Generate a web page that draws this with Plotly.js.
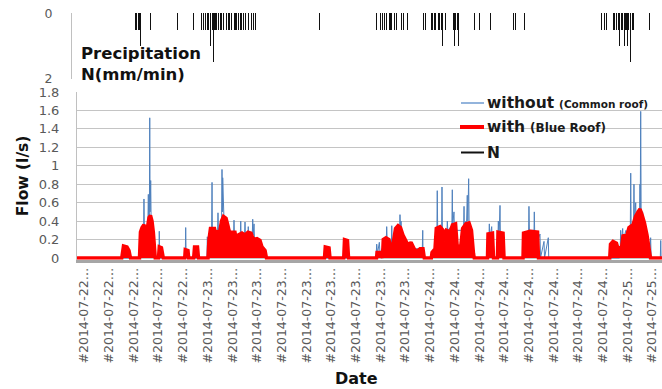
<!DOCTYPE html>
<html>
<head>
<meta charset="utf-8">
<script src="https://cdn.plot.ly/plotly-3.0.1.min.js"></script>
<style>html,body{margin:0;padding:0;overflow:hidden;background:#fff}#chart{width:662px;height:389px}</style>
</head>
<body>
<div id="chart"></div>
<script>
// Time unit: hours since 2014-07-22 00:00
// Precipitation N (mm/min), tipping-bucket steps
const rainHours = [16.41,16.61,16.75,16.90,17.06,17.18,18.35,21.41,23.19,
  24.15,24.38,24.61,24.84,24.98,25.10,25.21,25.33,25.48,25.61,25.75,25.87,26.05,26.25,26.43,26.62,26.81,27.01,27.19,27.38,27.58,27.87,28.01,28.15,28.30,28.41,28.53,28.72,28.90,29.18,29.47,29.79,30.05,30.33,
  37.59,
  44.15,44.53,44.79,45.02,45.29,45.44,45.59,45.73,45.87,46.01,46.13,46.24,46.43,46.93,47.19,47.69,
  49.47,49.78,50.43,50.58,50.73,50.89,51.04,51.19,51.35,51.50,51.69,51.84,51.96,52.41,52.64,52.90,53.02,53.18,53.33,53.48,53.67,
  55.30,55.95,57.17,
  59.76,60.03,60.41,61.02,
  69.86,70.13,70.43,71.04,71.21,71.38,71.58,71.73,71.84,71.95,72.07,72.18,72.29,72.44,72.58,72.70,72.83,72.95,73.10,73.21,73.36,73.50,73.67,
  75.38];
const rainValues = [0.5,0.5,0.5,0.5,0.5,1.0,0.5,0.5,0.5,
  0.5,0.5,0.5,0.5,0.5,1.0,0.5,0.5,1.5,0.5,0.5,0.5,0.5,0.5,0.5,0.5,0.5,0.5,0.5,0.5,0.5,0.5,0.5,0.5,0.5,0.5,0.5,0.5,0.5,0.5,0.5,0.5,0.5,0.5,
  0.5,
  0.5,0.5,0.5,0.5,0.5,0.5,0.5,0.5,0.5,0.5,0.5,0.5,0.5,0.5,0.5,0.5,
  0.5,0.5,0.5,0.5,0.5,0.5,0.5,0.5,0.5,0.5,1.0,0.5,0.5,0.5,0.5,0.5,1.0,0.5,0.5,1.0,0.5,
  0.5,0.5,0.5,
  0.5,0.5,0.5,0.5,
  0.5,0.5,0.5,0.5,0.5,0.5,0.5,0.5,0.5,1.0,0.5,0.5,0.5,1.0,0.5,0.5,1.0,0.5,1.5,0.5,0.5,0.5,0.5,
  0.5];

// Flow without (Common roof), l/s
const withoutHours = [9.90,17.10,17.21,17.50,17.55,17.61,17.99,18.05,18.10,18.17,18.21,18.25,18.32,18.38,18.70,18.81,19.27,19.30,19.35,
  22.27,22.32,22.37,
  24.75,24.79,24.87,25.28,25.33,25.37,25.97,26.01,26.06,26.42,26.47,26.51,26.55,26.62,26.70,26.81,27.04,27.79,27.84,27.89,28.56,28.61,28.65,29.05,29.10,29.14,29.44,29.47,29.52,29.93,29.98,30.03,30.13,30.18,31.38,31.61,
  44.07,44.15,44.24,44.45,44.53,45.25,45.29,45.34,45.83,45.87,45.91,46.77,46.81,46.87,46.93,46.98,47.15,47.50,49.36,49.41,49.45,
  50.41,50.98,51.03,51.07,51.12,51.57,51.61,51.66,52.18,52.22,52.27,52.74,52.79,52.83,52.98,53.03,54.08,54.13,54.17,54.35,54.41,54.50,54.56,54.66,54.71,55.15,55.27,
  56.93,56.97,57.02,57.06,57.29,57.34,57.44,
  57.95,58.05,58.13,58.24,58.29,58.65,
  60.87,60.93,61.51,61.55,61.60,62.13,62.16,62.21,62.59,62.81,62.87,63.27,63.33,63.76,63.81,
  71.90,71.99,72.03,72.08,72.26,72.31,72.64,72.69,73.13,73.18,73.23,73.51,73.55,73.60,73.75,73.80,74.19,74.24,74.27,74.32,74.37,74.55,74.59,75.38,75.46,75.51,
  76.56,76.61,76.65,76.75];
const withoutValues = [0,0,0.25,0.2,0.64,0.2,0.3,0.69,0.3,0.4,1.52,0.5,0.84,0.3,0.2,0,0,0.29,0,
  0,0.33,0,
  0,0.23,0.1,0.3,0.82,0.3,0.3,0.49,0.3,0.4,0.96,0.5,0.87,0.6,0.4,0.3,0.35,0.25,0.41,0.25,0.25,0.4,0.25,0.25,0.39,0.25,0.25,0.34,0.25,0.25,0.42,0.25,0.37,0.2,0.05,0,
  0,0.15,0.05,0.17,0.05,0.2,0.34,0.2,0.15,0.35,0.15,0.3,0.47,0.3,0.4,0.3,0.2,0.1,0.1,0.3,0,
  0,0.1,0.3,0.73,0.3,0.3,0.77,0.3,0.3,0.4,0.3,0.35,0.74,0.35,0.5,0.3,0.3,0.56,0.3,0.4,0.35,0.68,0.4,0.86,0.35,0.1,0,
  0,0.2,0.37,0.2,0.34,0.2,0,
  0,0.4,0.2,0.57,0.2,0,
  0,0.25,0.3,0.56,0.3,0.3,0.5,0.25,0.2,0.26,0,0.18,0,0.22,0,
  0,0.15,0.3,0.15,0.32,0.2,0.3,0.25,0.3,0.92,0.3,0.4,0.8,0.4,0.6,0.4,0.4,0.8,0.5,1.59,0.5,0.5,0.3,0.1,0.22,0,
  0,0.19,0,0];

// Flow with (Blue Roof), l/s
const withHours = [9.90,15.01,15.21,15.61,15.84,16.01,17.04,17.15,17.33,17.55,17.73,17.86,17.98,18.13,18.30,18.47,18.62,18.76,18.84,
  19.21,19.30,19.55,19.67,19.76,22.21,22.27,22.58,22.66,23.23,23.33,23.67,23.78,
  24.87,24.98,25.15,25.61,25.78,25.95,26.24,26.41,26.64,26.93,27.15,27.38,27.61,27.95,28.18,28.35,28.75,29.10,29.44,29.79,30.07,30.47,30.81,31.04,31.39,31.55,
  38.18,38.27,38.70,38.81,40.38,40.47,40.81,40.93,
  44.13,44.19,44.64,44.81,44.90,45.21,45.55,45.78,46.01,46.30,46.59,46.87,47.15,47.50,47.79,48.07,48.30,48.53,48.87,49.10,49.44,49.59,
  50.39,50.47,50.81,50.96,51.39,51.73,51.90,52.13,52.53,52.81,53.16,53.33,53.55,53.78,53.97,54.35,54.70,54.98,55.21,55.30,
  56.81,56.87,57.38,57.50,57.95,58.01,58.59,58.70,60.87,60.93,61.67,62.53,62.64,
  70.78,70.87,71.15,71.55,71.73,72.13,72.30,72.75,72.98,73.44,73.73,74.01,74.24,74.47,74.75,75.04,75.27,75.44,76.75];
const withValues = [0,0,0.13,0.12,0.08,0,0,0.28,0.33,0.36,0.3,0.15,0.35,0.44,0.46,0.4,0.28,0.1,0,
  0,0.12,0.11,0.05,0,0,0.09,0.08,0,0,0.12,0.12,0,
  0,0.2,0.32,0.32,0.24,0.29,0.3,0.4,0.45,0.43,0.35,0.25,0.28,0.28,0.15,0.25,0.27,0.25,0.28,0.27,0.2,0.21,0.19,0.12,0.08,0,
  0,0.12,0.11,0,0,0.2,0.19,0,
  0,0.06,0.06,0,0.2,0.22,0.2,0.1,0.15,0.32,0.35,0.33,0.25,0.18,0.13,0.17,0.12,0.08,0.08,0.1,0.1,0,
  0,0.06,0.1,0.32,0.34,0.3,0.18,0.3,0.28,0.36,0.37,0.15,0.05,0.15,0.32,0.37,0.38,0.3,0.05,0,
  0,0.26,0.27,0,0,0.28,0.27,0,0,0.27,0.29,0.28,0,
  0,0.15,0.18,0.16,0.1,0.12,0.24,0.25,0.33,0.36,0.45,0.5,0.53,0.47,0.38,0.25,0.12,0,0];

const tickLabels = ["#2014-07-22…","#2014-07-22…","#2014-07-22…","#2014-07-22…","#2014-07-22…",
  "#2014-07-23…","#2014-07-23…","#2014-07-23…","#2014-07-23…","#2014-07-23…","#2014-07-23…","#2014-07-23…","#2014-07-23…","#2014-07-23…",
  "#2014-07-24…","#2014-07-24…","#2014-07-24…","#2014-07-24…","#2014-07-24…","#2014-07-24…","#2014-07-24…","#2014-07-24…",
  "#2014-07-25…","#2014-07-25…"];
const tickStart = 10.73, tickStep = 2.823;
const tickHours = tickLabels.map((_, i) => tickStart + i * tickStep);

const W = 662, H = 389;
const px = x => x / W, py = y => 1 - y / H;
const FONT = '"DejaVu Sans", "Noto Sans", sans-serif';
const BFONT = '"DejaVu Sans", "Noto Sans", sans-serif';
const GRID = '#c4c4c4';

const traces = [
  {x: rainHours, y: rainValues, type: 'bar', xaxis: 'x2', yaxis: 'y2', width: 0.11,
   marker: {color: '#111', line: {width: 0}}, name: 'N', showlegend: false},
  {x: withoutHours, y: withoutValues, type: 'scatter', mode: 'lines', name: 'without (Common roof)',
   line: {color: '#4f81bd', width: 1}, showlegend: false},
  {x: withHours, y: withValues, type: 'scatter', mode: 'lines', name: 'with (Blue Roof)',
   line: {color: '#ff0000', width: 3.5}, fill: 'tozeroy', fillcolor: '#ff0000', showlegend: false}
];

const layout = {
  width: W, height: H,
  margin: {l: 0, r: 0, t: 0, b: 0},
  paper_bgcolor: '#fff', plot_bgcolor: 'rgba(0,0,0,0)',
  font: {family: FONT, color: '#595959', size: 13},
  bargap: 0,
  xaxis: {domain: [px(77), 1], range: [(77 + 9.6) / 8.75, (W + 9.6) / 8.75], anchor: 'y',
    tickmode: 'array', tickvals: tickHours, ticktext: tickLabels, tickangle: -90,
    ticks: '', tickfont: {size: 12.5, color: '#595959', family: FONT},
    showgrid: false, zeroline: false, showline: true, linecolor: '#a6a6a6', linewidth: 3},
  yaxis: {domain: [(H - 259.84) / H, (H - 92) / H], range: [-0.02, 1.8], anchor: 'x',
    tickmode: 'array', tickvals: [0,0.2,0.4,0.6,0.8,1,1.2,1.4,1.6,1.8], ticktext: ['0','0.2','0.4','0.6','0.8','1','1.2','1.4','1.6','1.8'],
    ticks: 'outside', ticklen: 14, tickcolor: 'rgba(0,0,0,0)',
    tickfont: {size: 13, color: '#595959', family: FONT},
    showgrid: true, gridcolor: GRID, gridwidth: 1, zeroline: false,
    showline: true, linecolor: '#c0c0c0', linewidth: 1,
    title: {text: '<b>Flow (l/s)</b>', font: {size: 15.5, color: '#111', family: BFONT}, standoff: 6}},
  xaxis2: {domain: [px(72), 1], range: [(72 + 9.6) / 8.75, (W + 9.6) / 8.75], anchor: 'y2',
    showticklabels: false, showgrid: false, zeroline: false, showline: false, ticks: ''},
  yaxis2: {domain: [(H - 79) / H, (H - 13) / H], range: [2.01, -0.01], anchor: 'x2',
    tickmode: 'array', tickvals: [0, 2], ticktext: ['0', '2'],
    ticks: 'outside', ticklen: 16, tickcolor: 'rgba(0,0,0,0)',
    tickfont: {size: 12.5, color: '#595959', family: FONT},
    showgrid: true, gridcolor: GRID, gridwidth: 1, zeroline: false,
    showline: true, linecolor: '#c0c0c0', linewidth: 1},
  shapes: [
    {type: 'line', xref: 'paper', yref: 'paper', x0: px(461), x1: px(484), y0: py(103), y1: py(103), line: {color: '#6f9bd1', width: 1.5}},
    {type: 'line', xref: 'paper', yref: 'paper', x0: px(460), x1: px(484), y0: py(127), y1: py(127), line: {color: '#ff0000', width: 4}},
    {type: 'line', xref: 'paper', yref: 'paper', x0: px(461), x1: px(484), y0: py(152.5), y1: py(152.5), line: {color: '#111', width: 2}}
  ],
  annotations: [
    {xref: 'paper', yref: 'paper', x: px(485), y: py(103), xanchor: 'left', yanchor: 'middle', showarrow: false,
     text: '<b>without</b> <span style="font-size:10.5px"><b>(Common roof)</b></span>', font: {size: 15.5, color: '#1a1a1a', family: BFONT}},
    {xref: 'paper', yref: 'paper', x: px(485), y: py(127), xanchor: 'left', yanchor: 'middle', showarrow: false,
     text: '<b>with</b> <span style="font-size:12px"><b>(Blue Roof)</b></span>', font: {size: 15.5, color: '#1a1a1a', family: BFONT}},
    {xref: 'paper', yref: 'paper', x: px(485), y: py(152.5), xanchor: 'left', yanchor: 'middle', showarrow: false,
     text: '<b>N</b>', font: {size: 15.5, color: '#1a1a1a', family: BFONT}},
    {xref: 'paper', yref: 'paper', x: px(79), y: py(64), xanchor: 'left', yanchor: 'middle', showarrow: false, align: 'left',
     text: '<b>Precipitation</b><br><b>N(mm/min)</b>', font: {size: 16.5, color: '#111', family: BFONT}},
    {xref: 'paper', yref: 'paper', x: px(356), y: py(378), xanchor: 'center', yanchor: 'middle', showarrow: false,
     text: '<b>Date</b>', font: {size: 16, color: '#111', family: BFONT}}
  ]
};

Plotly.newPlot('chart', traces, layout, {staticPlot: true, displayModeBar: false});
</script>
</body>
</html>
